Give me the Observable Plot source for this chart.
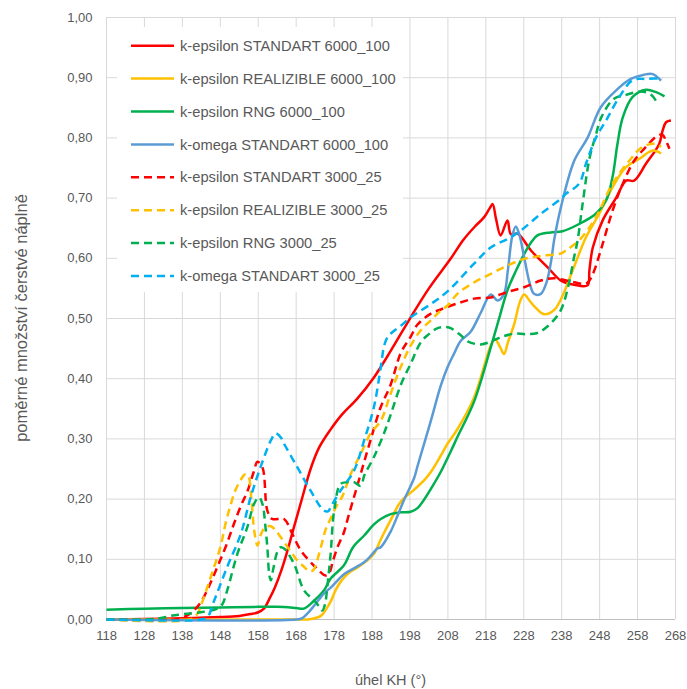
<!DOCTYPE html>
<html><head><meta charset="utf-8">
<script src="https://cdn.jsdelivr.net/npm/d3@7"></script>
<script src="https://cdn.jsdelivr.net/npm/@observablehq/plot@0.6"></script>
<style>
html,body{margin:0;padding:0;background:#fff;}
#wrap{position:relative;width:687px;height:689px;font-family:"Liberation Sans",Arial,sans-serif;}
#legend{position:absolute;left:117px;top:27px;width:286px;height:265px;background:#fff;}
.ttl{position:absolute;color:#595959;white-space:nowrap;line-height:1;}
</style></head><body><div id="wrap"></div>
<script>
const xTicks = [118,128,138,148,158,168,178,188,198,208,218,228,238,248,258,268];
const yTicks = [0,0.1,0.2,0.3,0.4,0.5,0.6,0.7,0.8,0.9,1.0];
const xTitle = "úhel KH (°)";
const yTitle = "poměrné množství čerstvé náplně";

const seriesNames = [
  "k-epsilon STANDART 6000_100",
  "k-epsilon REALIZIBLE 6000_100",
  "k-epsilon RNG 6000_100",
  "k-omega STANDART 6000_100",
  "k-epsilon STANDART 3000_25",
  "k-epsilon REALIZIBLE 3000_25",
  "k-epsilon RNG 3000_25",
  "k-omega STANDART 3000_25"
];
const seriesColors = ["#FF0000","#FFC000","#00B050","#5B9BD5","#FF0000","#FFC000","#00B050","#00B0F0"];
const seriesDashed = [false,false,false,false,true,true,true,true];

const redSolid = [[118,0],[128,0.001],[138,0.002],[148,0.004],[153,0.006],[156,0.009],[158,0.012],[159.5,0.018],[161,0.035],[162.5,0.055],[164,0.08],[165.5,0.11],[167.4,0.153],[169.5,0.2],[171.8,0.25],[174,0.285],[177,0.315],[180,0.34],[184,0.366],[188.5,0.402],[193,0.447],[198.2,0.502],[203,0.55],[208.8,0.6],[212,0.63],[215,0.652],[217.5,0.668],[219,0.683],[219.8,0.69],[220.7,0.665],[221.9,0.638],[223.7,0.663],[224.6,0.64],[226.4,0.641],[229.9,0.613],[234.3,0.585],[237.8,0.563],[241.3,0.556],[244.8,0.555],[245.3,0.58],[246.2,0.618],[248.8,0.663],[252.3,0.70],[255,0.729],[257.1,0.729],[260.2,0.757],[263.7,0.79],[264.6,0.812],[265.5,0.826],[266.8,0.829]];
const orangeSolid = [[118,0],[168,0],[172,0.001],[174.5,0.006],[176,0.018],[177.1,0.03],[178.5,0.05],[180,0.065],[182,0.078],[184.1,0.086],[186.5,0.097],[188.5,0.109],[190.3,0.133],[192.9,0.165],[195.6,0.196],[199,0.215],[201.7,0.231],[203.5,0.245],[206.1,0.272],[207.9,0.292],[210.5,0.316],[214.9,0.369],[219.3,0.455],[220.4,0.466],[221.8,0.452],[222.8,0.441],[223.8,0.46],[225.5,0.491],[227,0.528],[228.1,0.54],[229.5,0.53],[230.8,0.52],[233.4,0.507],[236,0.514],[237.8,0.532],[240.9,0.58],[244.4,0.635],[247.9,0.674],[251.4,0.718],[254.9,0.751],[258.4,0.765],[262,0.779],[264.2,0.774]];
const greenSolid = [[118,0.016],[128,0.018],[138,0.019],[148,0.02],[158,0.021],[163,0.021],[168,0.019],[170,0.018],[172.5,0.03],[175.3,0.048],[177.1,0.068],[180.6,0.09],[183,0.12],[186,0.14],[188.5,0.158],[190.3,0.167],[192.9,0.175],[195.6,0.178],[198.2,0.179],[200,0.185],[201.7,0.199],[204,0.222],[206.1,0.245],[208.8,0.28],[210.5,0.303],[214.9,0.362],[219.3,0.452],[221.5,0.5],[223.7,0.547],[226,0.58],[228.1,0.607],[230,0.627],[231.6,0.638],[235.1,0.643],[238.2,0.645],[242.6,0.657],[247,0.674],[249.7,0.696],[251.4,0.735],[252.7,0.79],[254.1,0.834],[256.7,0.868],[260.2,0.88],[262.9,0.876],[265.1,0.869]];
const blueSolid = [[118,0],[168,0],[169.5,0.002],[171,0.01],[173,0.025],[175.3,0.043],[177.1,0.053],[180.6,0.075],[182.4,0.082],[185.9,0.095],[187.7,0.106],[188.5,0.112],[189.4,0.118],[190.3,0.12],[192.9,0.146],[194.7,0.172],[196.4,0.198],[199.1,0.235],[200,0.255],[203.5,0.33],[206.1,0.388],[207.9,0.419],[209.5,0.44],[211.4,0.463],[214,0.478],[216.7,0.51],[219.3,0.54],[221.1,0.53],[222.8,0.541],[223.8,0.58],[225,0.638],[225.9,0.653],[226.8,0.64],[228.1,0.602],[229.5,0.56],[230.7,0.541],[232.5,0.541],[234,0.56],[235.2,0.595],[236,0.63],[237.8,0.685],[241.3,0.762],[244.8,0.80],[248.3,0.851],[252.7,0.881],[256.2,0.898],[259.7,0.905],[262,0.906],[264.2,0.895]];
const redDashed = [[118,0],[136,0],[138.4,0.004],[140.5,0.012],[142.8,0.028],[145,0.055],[147.2,0.087],[149.5,0.122],[151.6,0.159],[153.5,0.19],[155.1,0.212],[156.8,0.245],[157.8,0.262],[159.1,0.253],[160.4,0.181],[161.7,0.167],[164.8,0.167],[167,0.142],[169.2,0.115],[173.1,0.087],[175.8,0.073],[176.8,0.078],[177.6,0.095],[178.9,0.12],[180.6,0.145],[181.8,0.172],[184.1,0.222],[187.7,0.3],[190.3,0.353],[192.9,0.39],[195.6,0.443],[198.2,0.47],[200,0.49],[203.5,0.508],[206.1,0.515],[210.5,0.525],[214.9,0.533],[219.3,0.535],[223.7,0.544],[228.1,0.552],[232.5,0.563],[236,0.567],[240,0.562],[244.4,0.558],[245.5,0.565],[246.6,0.58],[248.8,0.624],[251.4,0.679],[254.1,0.724],[257.1,0.762],[260.2,0.785],[263.3,0.804],[264.6,0.805],[265.5,0.795],[266.4,0.782]];
const orangeDashed = [[118,0],[140,0],[141.9,0.009],[143,0.025],[144.6,0.054],[146.5,0.09],[148.1,0.122],[149.4,0.16],[150.7,0.19],[152,0.215],[153.4,0.232],[154.5,0.241],[155.4,0.238],[156.2,0.2],[157,0.145],[157.8,0.123],[158.6,0.14],[159.8,0.153],[161.3,0.155],[162.6,0.148],[163.9,0.137],[166,0.118],[168.3,0.098],[170,0.088],[171.5,0.08],[172.5,0.082],[174.5,0.12],[175.8,0.15],[177.1,0.168],[178.5,0.187],[180.2,0.205],[182.4,0.242],[185,0.275],[187.7,0.31],[190.3,0.33],[192.9,0.375],[195.6,0.42],[198.2,0.455],[200.8,0.48],[203.5,0.497],[206.1,0.513],[208,0.522],[210.5,0.541],[214.9,0.56],[219.3,0.574],[223.7,0.588],[228.1,0.599],[232.5,0.604],[237.8,0.608],[239.1,0.613],[242.6,0.63],[247,0.668],[251.4,0.724],[255.8,0.762],[259.3,0.785],[262.8,0.79],[264.2,0.785]];
const greenDashed = [[118,0],[128,0],[132,0.002],[135,0.006],[138.4,0.009],[142.8,0.012],[147.2,0.018],[148.5,0.025],[149.8,0.048],[152.5,0.109],[155.1,0.153],[156.9,0.192],[158.2,0.203],[159.2,0.19],[159.8,0.16],[160.4,0.12],[160.9,0.075],[161.3,0.065],[162,0.085],[163,0.112],[163.9,0.12],[164.8,0.118],[167.4,0.093],[170.1,0.048],[172.7,0.032],[174,0.022],[174.9,0.015],[175.6,0.025],[176.2,0.054],[177.1,0.11],[178,0.18],[179.7,0.225],[181.5,0.228],[183.3,0.228],[185,0.222],[186,0.24],[188.5,0.27],[191.2,0.31],[192.9,0.34],[195.6,0.39],[198.2,0.425],[200.8,0.46],[202.6,0.472],[205.3,0.484],[208.3,0.485],[211.4,0.472],[213.2,0.462],[216.7,0.457],[220.2,0.464],[222,0.469],[225.5,0.475],[228.5,0.474],[231.6,0.476],[234.3,0.487],[236.9,0.505],[238.2,0.52],[239.9,0.558],[241.2,0.6],[242.2,0.63],[243.5,0.69],[245.3,0.765],[247,0.805],[248.5,0.835],[251.8,0.865],[255.3,0.872],[258.8,0.877],[261.5,0.872],[263.3,0.857]];
const cyanDashed = [[118,0],[143,0],[144.6,0.004],[146.3,0.03],[149.8,0.087],[153.4,0.142],[156,0.203],[158.6,0.253],[161.3,0.297],[162.6,0.309],[164,0.302],[164.8,0.292],[168.3,0.253],[171.8,0.214],[175.3,0.181],[176.5,0.18],[177.1,0.187],[179.7,0.214],[183.3,0.248],[185.9,0.297],[188.5,0.353],[190.3,0.419],[191.2,0.455],[192.1,0.469],[193.5,0.478],[195.6,0.488],[198.2,0.502],[203.5,0.524],[207.9,0.545],[214.9,0.591],[219.3,0.618],[223.7,0.632],[227.2,0.646],[232.5,0.674],[237.8,0.699],[239.1,0.707],[242.6,0.724],[244.4,0.757],[247,0.80],[249.7,0.829],[253.2,0.868],[256.7,0.896],[260.2,0.898],[264.6,0.899]];

const seriesData = [redSolid, orangeSolid, greenSolid, blueSolid, redDashed, orangeDashed, greenDashed, cyanDashed];

const fmt = d => d.toFixed(2).replace(".", ",");
const W = 687, H = 689, mL = 106, mR = 12, mT = 17, mB = 70;

const lineMarks = seriesData.map((data, i) => Plot.line(data, {
  x: d => d[0], y: d => d[1],
  stroke: seriesColors[i], strokeWidth: 2.5,
  strokeDasharray: seriesDashed[i] ? "8,5" : null,
  strokeLinecap: "butt", strokeLinejoin: "round",
  curve: "catmull-rom"
}));

const chart = Plot.plot({
  width: W, height: H,
  marginLeft: mL, marginRight: mR, marginTop: mT, marginBottom: mB,
  style: {fontFamily: "'Liberation Sans', Arial, sans-serif", fontSize: "13px", color: "#595959", background: "white"},
  x: {domain: [118, 268], label: null},
  y: {domain: [0, 1], label: null},
  marks: [
    Plot.gridX(xTicks, {stroke: "#d9d9d9", strokeOpacity: 1, strokeWidth: 1}),
    Plot.gridY(yTicks, {stroke: "#d9d9d9", strokeOpacity: 1, strokeWidth: 1}),
    Plot.ruleY([0], {stroke: "#bfbfbf"}),
    Plot.axisX(xTicks, {tickSize: 0, tickPadding: 11, fill: "#595959", fontSize: 13, label: null}),
    Plot.axisY(yTicks, {tickSize: 0, tickPadding: 14, tickFormat: fmt, fill: "#595959", fontSize: 13, label: null}),
    ...lineMarks
  ]
});

const wrap = document.getElementById("wrap");
wrap.appendChild(chart);

// legend overlay
const leg = document.createElement("div");
leg.id = "legend";
wrap.appendChild(leg);
const lsvg = d3.select(leg).append("svg").attr("width", 286).attr("height", 265);
seriesNames.forEach((name, i) => {
  const cy = 18.7 + 32.9 * i;
  lsvg.append("line")
    .attr("x1", 14).attr("x2", 57).attr("y1", cy).attr("y2", cy)
    .attr("stroke", seriesColors[i]).attr("stroke-width", 2.5)
    .attr("stroke-dasharray", seriesDashed[i] ? "8,5" : null);
  lsvg.append("text")
    .attr("x", 63).attr("y", cy).attr("dy", "0.35em")
    .attr("fill", "#595959")
    .style("font-family", "'Liberation Sans', Arial, sans-serif")
    .style("font-size", "14.7px")
    .text(name);
});

// axis titles
const xt = document.createElement("div");
xt.className = "ttl"; xt.textContent = xTitle;
xt.style.fontSize = "14.5px";
xt.style.left = (mL + (W - mL - mR) / 2) + "px"; xt.style.top = "680px";
xt.style.transform = "translate(-50%,-50%)";
wrap.appendChild(xt);
const yt = document.createElement("div");
yt.className = "ttl"; yt.textContent = yTitle;
yt.style.fontSize = "16.5px";
yt.style.left = "21px"; yt.style.top = (mT + (H - mT - mB) / 2) + "px";
yt.style.transform = "translate(-50%,-50%) rotate(-90deg)";
wrap.appendChild(yt);
</script>
</body></html>
